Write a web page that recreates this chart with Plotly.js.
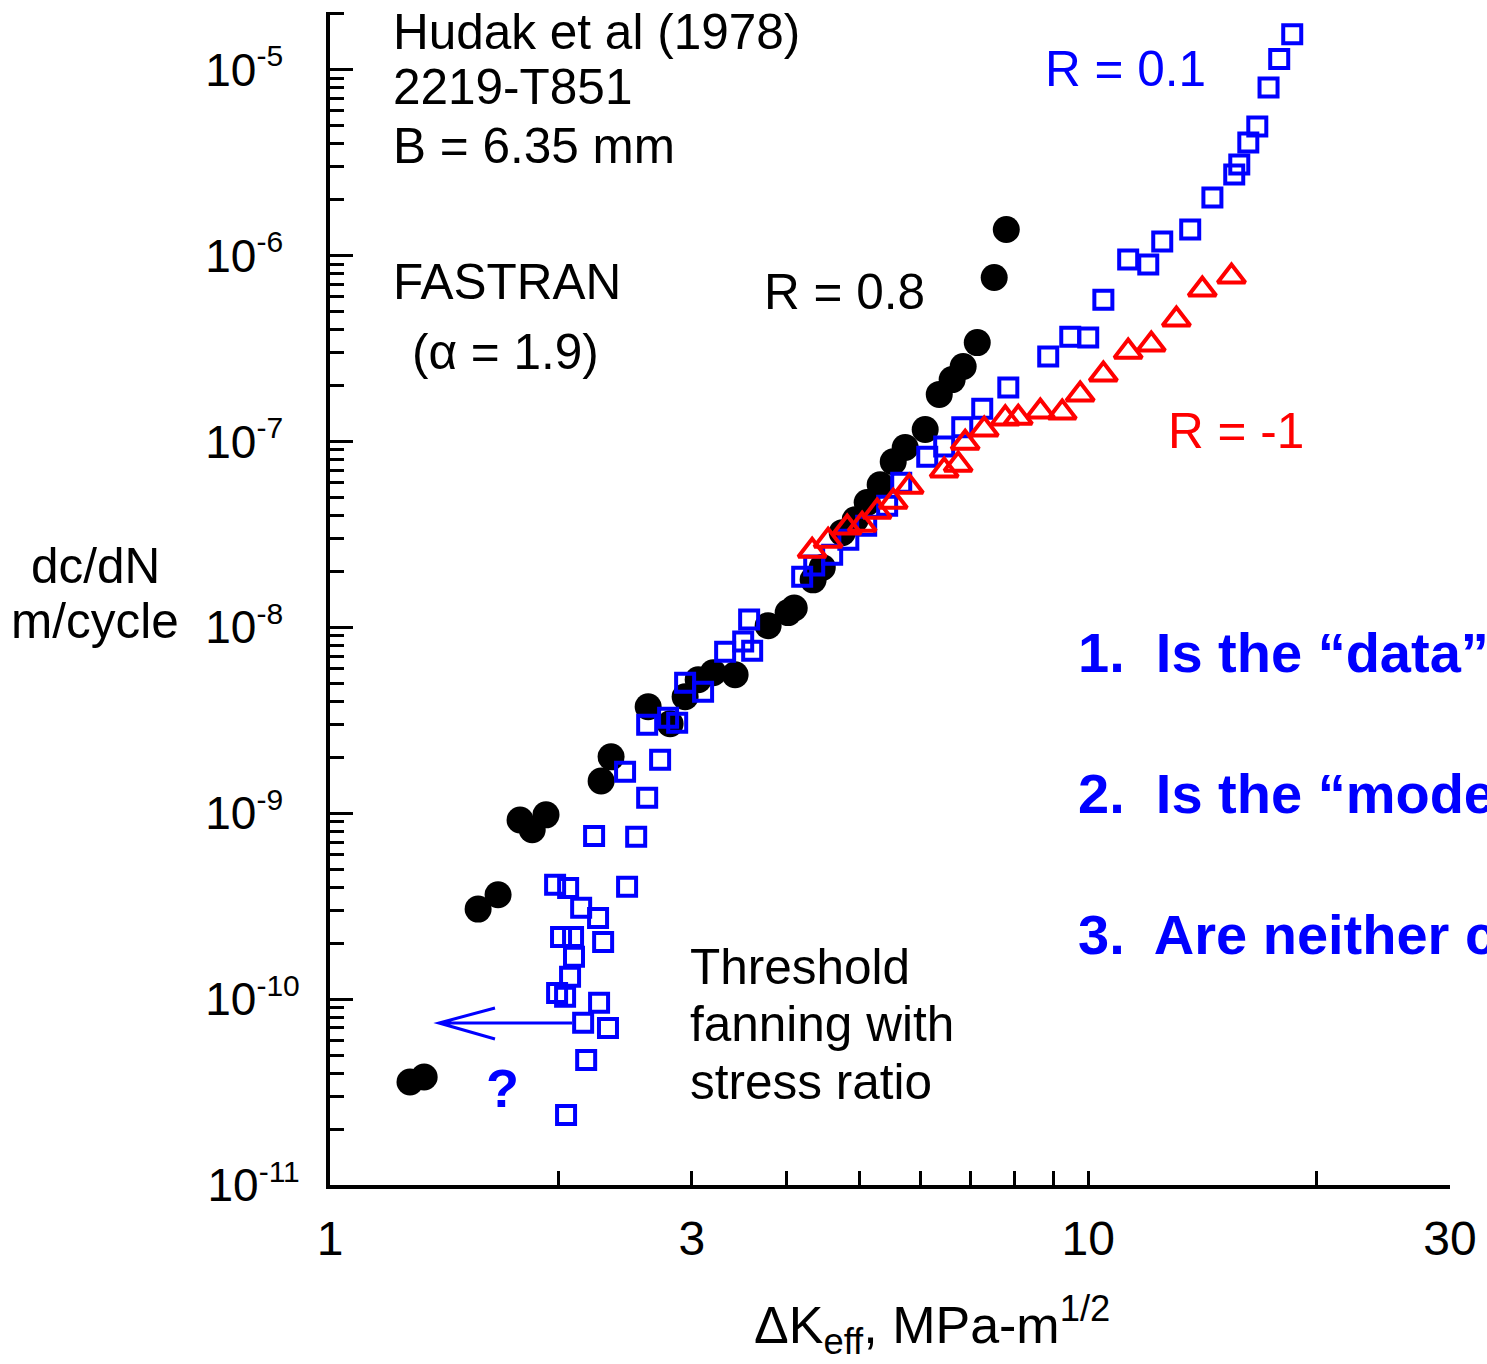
<!DOCTYPE html>
<html>
<head>
<meta charset="utf-8">
<script src="https://cdn.plot.ly/plotly-3.0.1.min.js"></script>
<style>html,body{margin:0;padding:0;background:#fff;overflow:hidden;}</style>
</head>
<body>
<div id="chart" style="width:1487px;height:1364px;"></div>
<script>
// R = 0.8 (solid black circles)
const dK_R08 = [1.275,1.331,1.568,1.666,1.781,1.848,1.927,2.278,2.348,2.628,2.809,2.940,3.059,3.201,3.422,3.783,4.020,4.095,4.337,4.459,4.737,4.928,5.110,5.316,5.531,5.736,6.095,6.361,6.615,6.840,7.139,7.516,7.797];
const dcdN_R08 = [3.58e-11,3.81e-11,3.05e-10,3.64e-10,9.2e-10,8.15e-10,9.8e-10,1.49e-9,2.01e-9,3.74e-9,3.03e-9,4.23e-9,5.22e-9,5.70e-9,5.56e-9,1.02e-8,1.20e-8,1.27e-8,1.80e-8,2.10e-8,3.23e-8,3.79e-8,4.69e-8,5.85e-8,7.78e-8,9.27e-8,1.16e-7,1.79e-7,2.15e-7,2.53e-7,3.40e-7,7.62e-7,1.38e-6];

// R = 0.1 (open blue squares)
const dK_R01 = [2.048,2.177,2.157,2.326,2.264,1.993,2.042,2.073,2.098,2.017,2.092,2.292,2.257,2.144,2.061,1.981,2.465,2.230,2.534,2.620,2.450,2.725,2.620,2.792,2.870,2.940,3.105,3.320,3.507,3.604,3.571,4.195,4.351,4.595,4.826,5.095,5.430,5.667,6.133,6.457,6.821,7.248,7.845,8.856,9.469,10.0,10.47,11.29,12.0,12.52,13.63,14.58,15.58,15.82,16.26,16.71,17.29,17.86,18.58];
const dcdN_R01 = [2.38e-11,4.71e-11,7.45e-11,7.0e-11,9.55e-11,1.08e-10,1.03e-10,1.32e-10,1.69e-10,2.16e-10,2.16e-10,2.03e-10,2.73e-10,3.10e-10,3.96e-10,4.12e-10,4.02e-10,7.55e-10,7.46e-10,1.21e-9,1.67e-9,1.94e-9,2.99e-9,3.26e-9,3.07e-9,5.04e-9,4.50e-9,7.39e-9,8.38e-9,7.48e-9,1.10e-8,1.87e-8,2.15e-8,2.46e-8,2.96e-8,3.52e-8,4.51e-8,6.0e-8,8.28e-8,9.38e-8,1.19e-7,1.50e-7,1.95e-7,2.86e-7,3.66e-7,3.62e-7,5.79e-7,9.51e-7,8.96e-7,1.19e-6,1.38e-6,2.05e-6,2.73e-6,3.09e-6,4.06e-6,4.94e-6,8.02e-6,1.14e-5,1.55e-5];

// R = -1 (open red triangles)
const dK_Rm1 = [4.324,4.539,4.810,5.033,5.268,5.531,5.806,6.457,6.737,6.882,7.292,7.773,8.086,8.646,9.241,9.759,10.47,11.29,12.11,13.07,14.14,15.45];
const dcdN_Rm1 = [2.58e-8,2.92e-8,3.44e-8,3.56e-8,4.19e-8,4.74e-8,5.71e-8,6.97e-8,7.50e-8,9.84e-8,1.16e-7,1.33e-7,1.34e-7,1.45e-7,1.43e-7,1.79e-7,2.29e-7,3.04e-7,3.32e-7,4.53e-7,6.56e-7,7.71e-7];

// Axis tick definitions
const xTickVals = [1,2,3,4,5,6,7,8,9,10,20,30];
const xTickText = ['1','','3','','','','','','','10','','30'];
const xMajorVals = [1,10];
const yDecadeExps = [-11,-10,-9,-8,-7,-6,-5];
const yMinorDigits = [2,3,4,5,6,7,8,9];

const FONT = 'Liberation Sans, Arial, Helvetica, sans-serif';
const BLUE = '#0000ff', RED = '#ff0000', BLACK = '#000000';
const TXT = 49.5, QTXT = 56;

const yTickVals = yDecadeExps.map(e => Math.pow(10, e));
// superscript exponents; short exponents padded with a figure space so labels line up on the left
const yTickText = yDecadeExps.map(e => '10<sup><span style="font-size:30px">' + e + (e > -10 ? '\u2007' : '') + '</span></sup>');
const yMinorVals = [];
yDecadeExps.forEach(e => yMinorDigits.forEach(d => yMinorVals.push(d * Math.pow(10, e))));

const xRange = [0, Math.log10(30)];
const yRange = [-11, -4.69];

const traces = [
  {x: dK_R08, y: dcdN_R08, type: 'scatter', mode: 'markers', name: 'R = 0.8',
   marker: {symbol: 'circle', size: 27, color: BLACK, line: {width: 0}}},
  {x: dK_R01, y: dcdN_R01, type: 'scatter', mode: 'markers', name: 'R = 0.1',
   marker: {symbol: 'square-open', size: 18, color: BLUE, line: {width: 4, color: BLUE}}},
  {x: dK_Rm1, y: dcdN_Rm1, type: 'scatter', mode: 'markers', name: 'R = -1',
   marker: {symbol: 'triangle-up-open', size: 24, color: RED, line: {width: 4, color: RED}}}
];

// layout helpers: convert page pixel to paper fraction (positions only)
const L = 330, R = 1450, T = 12, B = 1185;
const px = v => (v - L) / (R - L);
const py = v => (B - v) / (B - T);

function txt(text, x, y, opts) {
  opts = opts || {};
  return Object.assign({
    xref: 'paper', yref: 'paper', x: px(x), y: py(y), text: text, showarrow: false,
    xanchor: 'left', yanchor: 'middle', align: 'left',
    font: {family: FONT, size: opts.size || TXT, color: opts.color || BLACK, weight: opts.weight || 'normal'}
  }, opts.extra || {});
}

const annotations = [
  txt('Hudak et al (1978)', 391, 31),
  txt('2219-T851', 391, 87),
  txt('B = 6.35 mm', 391, 145),
  txt('FASTRAN', 391, 282),
  txt('(\u03b1 = 1.9)', 410, 351),
  txt('R = 0.8', 762, 291),
  txt('R = 0.1', 1043, 69, {color: BLUE}),
  txt('R = -1', 1166, 431, {color: RED}),
  txt('Threshold', 688, 966),
  txt('fanning with', 688, 1023),
  txt('stress ratio', 688, 1081),
  txt('?', 502, 1088, {color: BLUE, weight: 'bold', size: 54, extra: {xanchor: 'center'}}),
  txt('1.  Is the \u201cdata\u201d wrong?', 1076, 652, {color: BLUE, weight: 'bold', size: QTXT}),
  txt('2.  Is the \u201cmodel\u201d wrong?', 1076, 793, {color: BLUE, weight: 'bold', size: QTXT}),
  txt('3.  Are neither correct?', 1076, 934, {color: BLUE, weight: 'bold', size: QTXT}),
  txt('dc/dN', 95, 566, {extra: {xanchor: 'center'}}),
  txt('m/cycle', 95, 621, {extra: {xanchor: 'center'}}),
  txt('\u0394K<sub>eff</sub>, MPa-m<sup>1/2</sup>', 932, 1325, {size: 52, extra: {xanchor: 'center'}})
];

// open arrow (pointing left) in paper coordinates
const arrowTip = [439, 1023], arrowTail = [572, 1023], arrowArmUp = [495, 1008], arrowArmDn = [495, 1039];
const P = p => px(p[0]) + ',' + py(p[1]);
const shapes = [{
  type: 'path', xref: 'paper', yref: 'paper',
  path: 'M' + P(arrowTail) + 'L' + P(arrowTip) + 'M' + P(arrowArmUp) + 'L' + P(arrowTip) + 'L' + P(arrowArmDn),
  line: {color: BLUE, width: 3}
}];

const axisCommon = {
  showgrid: false, zeroline: false, showline: true, linecolor: BLACK, linewidth: 4,
  ticks: 'inside', tickcolor: BLACK, tickwidth: 3
};

const layout = {
  width: 1487, height: 1364,
  margin: {l: L, r: 1487 - R, t: T, b: 1364 - B, pad: 0},
  paper_bgcolor: '#ffffff', plot_bgcolor: '#ffffff',
  showlegend: false,
  font: {family: FONT, size: 48, color: BLACK},
  xaxis: Object.assign({}, axisCommon, {
    type: 'log', range: xRange, tickmode: 'array', tickvals: xTickVals, ticktext: xTickText,
    ticklen: 14, ticklabelstandoff: 8,
    tickfont: {family: FONT, size: 48, color: BLACK}
  }),
  xaxis2: {
    type: 'log', range: xRange, overlaying: 'x', anchor: 'y', side: 'bottom',
    tickmode: 'array', tickvals: xMajorVals, ticks: 'inside', ticklen: 23, tickwidth: 3, tickcolor: BLACK,
    showticklabels: false, showline: false, showgrid: false, zeroline: false
  },
  yaxis: Object.assign({}, axisCommon, {
    type: 'log', range: yRange, tickmode: 'array', tickvals: yTickVals, ticktext: yTickText,
    ticklen: 23, ticklabelstandoff: 17,
    tickfont: {family: FONT, size: 46, color: BLACK},
    minor: {tickmode: 'array', tickvals: yMinorVals, ticks: 'inside', ticklen: 14, tickwidth: 3, tickcolor: BLACK, showgrid: false}
  }),
  annotations: annotations,
  shapes: shapes
};

Plotly.newPlot('chart', traces, layout, {displayModeBar: false, staticPlot: true});
</script>
</body>
</html>
